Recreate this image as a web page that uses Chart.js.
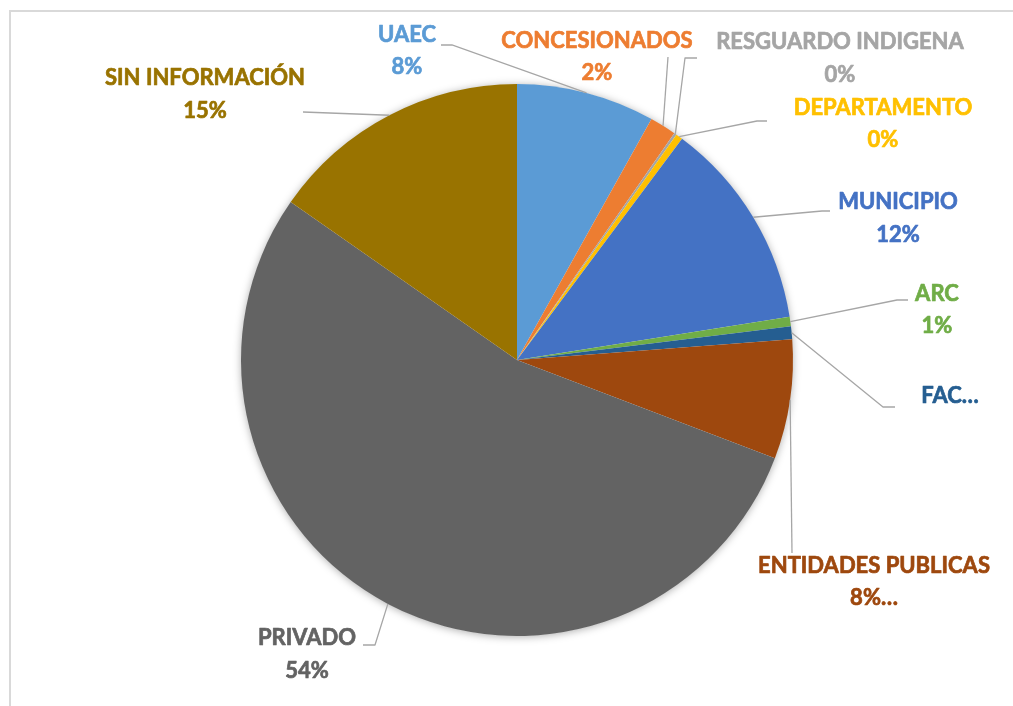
<!DOCTYPE html>
<html><head><meta charset="utf-8">
<script src="https://cdn.jsdelivr.net/npm/chart.js@4/dist/chart.umd.min.js"></script>
<style>
html,body{margin:0;padding:0;background:#fff;overflow:hidden}
#wrap{position:relative;width:1013px;height:706px;overflow:hidden}
#frame{position:absolute;left:9px;top:10px;width:1100px;height:800px;border-left:2px solid #d9d9d9;border-top:2px solid #d9d9d9}
canvas{position:absolute;left:0;top:0}
</style></head><body>
<div id="wrap"><div id="frame"></div><canvas id="c" width="1013" height="706"></canvas></div>
<script>
// ---- data ----
const categories = ["UAEC","CONCESIONADOS","RESGUARDO INDIGENA","DEPARTAMENTO","MUNICIPIO","ARC","FAC","ENTIDADES PUBLICAS","PRIVADO","SIN INFORMACIÓN"];
const shares = [8.1, 1.55, 0.15, 0.4, 12.3, 0.55, 0.75, 7.0, 53.9, 15.3];
const nameTexts = ["UAEC","CONCESIONADOS","RESGUARDO INDIGENA","DEPARTAMENTO","MUNICIPIO","ARC","FAC…","ENTIDADES PUBLICAS","PRIVADO","SIN INFORMACIÓN"];
const percentTexts = ["8%","2%","0%","0%","12%","1%","","8%…","54%","15%"];
const colors = ["#5B9BD5","#ED7D31","#A5A5A5","#FFC000","#4472C4","#70AD47","#255E91","#9E480E","#636363","#997300"];

// ---- label layout (manual placement, like the original) ----
const labelLayout = [
  {x:407, y1:35,  y2:67,  elbow:[452,45],  end:[441,45]},
  {x:597, y1:41,  y2:73,  elbow:[668,57],  end:[668,57]},
  {x:840, y1:42,  y2:75,  elbow:[685,58],  end:[697,58]},
  {x:883, y1:108, y2:140, elbow:[757,121], end:[767,121]},
  {x:898, y1:202, y2:235, elbow:[822,211], end:[830,211]},
  {x:937, y1:294, y2:326, elbow:[897,300], end:[908,300]},
  {x:950, y1:396, y2:null,elbow:[883,407], end:[895,407]},
  {x:874, y1:566, y2:598, elbow:[792,553], end:[792,553]},
  {x:307, y1:638, y2:671, elbow:[375,645], end:[363,645]},
  {x:205, y1:78,  y2:111, elbow:[303,112], end:[303,112]}
];

const shadowPlugin = {
  id:'pieShadow',
  beforeDatasetsDraw(chart){
    const arc = chart.getDatasetMeta(0).data[0];
    if(!arc) return;
    const ctx = chart.ctx;
    ctx.save();
    ctx.shadowColor = 'rgba(0,0,0,0.35)';
    ctx.shadowBlur = 9;
    ctx.shadowOffsetX = 0;
    ctx.shadowOffsetY = 1;
    ctx.fillStyle = '#ffffff';
    ctx.beginPath();
    ctx.arc(arc.x, arc.y, arc.outerRadius - 0.5, 0, Math.PI*2);
    ctx.fill();
    ctx.restore();
  }
};

const labelPlugin = {
  id:'outsideLabels',
  afterDatasetsDraw(chart){
    const ctx = chart.ctx;
    const meta = chart.getDatasetMeta(0);
    ctx.save();
    meta.data.forEach((arc, i) => {
      const L = labelLayout[i];
      const mid = (arc.startAngle + arc.endAngle)/2;
      const sx = arc.x + Math.cos(mid)*arc.outerRadius;
      const sy = arc.y + Math.sin(mid)*arc.outerRadius;
      ctx.strokeStyle = '#a6a6a6';
      ctx.lineWidth = 1.3;
      ctx.beginPath();
      ctx.moveTo(sx, sy);
      ctx.lineTo(L.elbow[0], L.elbow[1]);
      ctx.lineTo(L.end[0], L.end[1]);
      ctx.stroke();
      ctx.fillStyle = colors[i];
      ctx.strokeStyle = colors[i];
      ctx.lineWidth = 0.7;
      ctx.lineJoin = 'round';
      ctx.font = 'bold 22px Lato';
      ctx.textAlign = 'center';
      ctx.textBaseline = 'middle';
      ctx.fillText(nameTexts[i], L.x, L.y1);
      ctx.strokeText(nameTexts[i], L.x, L.y1);
      if (L.y2 !== null && percentTexts[i]) {
        ctx.fillText(percentTexts[i], L.x, L.y2);
        ctx.strokeText(percentTexts[i], L.x, L.y2);
      }
    });
    ctx.restore();
  }
};

new Chart(document.getElementById('c'), {
  type:'pie',
  data:{
    labels: categories,
    datasets:[{data: shares, backgroundColor: colors, borderWidth: 0}]
  },
  options:{
    responsive:false,
    devicePixelRatio:1,
    animation:false,
    layout:{padding:{left:241, right:220, top:84, bottom:70}},
    plugins:{legend:{display:false}, tooltip:{enabled:false}}
  },
  plugins:[shadowPlugin, labelPlugin]
});
</script>
</body></html>
